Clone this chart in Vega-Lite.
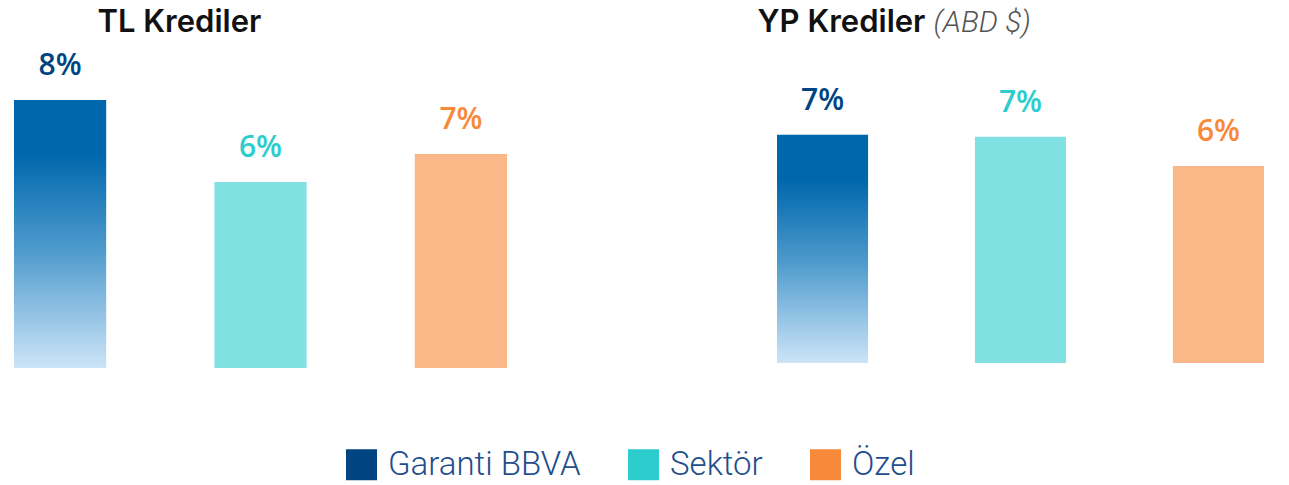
{
  "$schema": "https://vega.github.io/schema/vega-lite/v6.json",
  "padding": {"left": 14, "top": 6, "right": 10, "bottom": 4},
  "bounds": "flush",
  "spacing": 270,
  "datasets": {
    "krediler": [
      {"panel": "TL", "kategori": "Garanti BBVA", "deger": 8.0, "etiket": "8%"},
      {"panel": "TL", "kategori": "Sektör", "deger": 5.55, "etiket": "6%"},
      {"panel": "TL", "kategori": "Özel", "deger": 6.39, "etiket": "7%"},
      {"panel": "YP", "kategori": "Garanti BBVA", "deger": 6.81, "etiket": "7%"},
      {"panel": "YP", "kategori": "Sektör", "deger": 6.75, "etiket": "7%"},
      {"panel": "YP", "kategori": "Özel", "deger": 5.88, "etiket": "6%"}
    ]
  },
  "config": {
    "view": {"stroke": null},
    "font": "Inter",
    "axis": {"labels": false, "ticks": false, "domain": false, "grid": false, "titleBaseline": "alphabetic", "titleAlign": "left", "titleAngle": 0, "titleY": -19},
    "legend": {
      "orient": "none",
      "legendX": 331,
      "legendY": 398,
      "direction": "horizontal",
      "title": null,
      "symbolType": "square",
      "symbolSize": 961,
      "symbolOpacity": 1,
      "symbolStrokeWidth": 0,
      "labelFont": "Roboto",
      "labelFontSize": 33,
      "labelFontWeight": 300,
      "labelColor": "#1F4E8C",
      "labelOffset": 10,
      "labelLimit": 0,
      "columnPadding": 46
    }
  },
  "hconcat": [
    {
      "width": 493,
      "height": 318,
      "data": {"name": "krediler"},
      "transform": [{"filter": "datum.panel === 'TL'"}],
      "encoding": {
        "x": {"field": "kategori", "type": "nominal", "sort": ["Garanti BBVA", "Sektör", "Özel"], "scale": {"paddingInner": 0.54, "paddingOuter": 0},
          "axis": {"orient": "top", "title": "TL Krediler", "titleX": 83, "titleFont": "Inter", "titleFontSize": 31, "titleFontWeight": 600, "titleColor": "#111111"}},
        "y": {"field": "deger", "type": "quantitative", "scale": {"domain": [0, 9.493]}, "axis": null}
      },
      "layer": [
        {
          "transform": [{"filter": "datum.kategori === 'Garanti BBVA'"}],
          "mark": {"type": "bar", "color": {"gradient": "linear", "x1": 0, "y1": 0, "x2": 0, "y2": 1, "stops": [{"offset": 0, "color": "#0067AC"}, {"offset": 0.2, "color": "#0067AC"}, {"offset": 0.55, "color": "#4C99CC"}, {"offset": 1, "color": "#CCE4F7"}]}}
        },
        {
          "transform": [{"filter": "datum.kategori !== 'Garanti BBVA'"}],
          "mark": {"type": "bar", "opacity": 0.6},
          "encoding": {"color": {"field": "kategori", "type": "nominal", "scale": {"domain": ["Garanti BBVA", "Sektör", "Özel"], "range": ["#004481", "#2DCCCD", "#F7893B"]}}}
        },
        {
          "mark": {"type": "text", "dy": -34, "font": "Open Sans", "fontSize": 30, "fontWeight": 600},
          "encoding": {
            "text": {"field": "etiket"},
            "color": {"field": "kategori", "type": "nominal", "scale": {"domain": ["Garanti BBVA", "Sektör", "Özel"], "range": ["#004481", "#2DCCCD", "#F7893B"]}}
          }
        }
      ]
    },
    {
      "width": 487,
      "height": 313,
      "data": {"name": "krediler"},
      "transform": [{"filter": "datum.panel === 'YP'"}],
      "encoding": {
        "x": {"field": "kategori", "type": "nominal", "sort": ["Garanti BBVA", "Sektör", "Özel"], "scale": {"paddingInner": 0.54, "paddingOuter": 0},
          "axis": {"orient": "top", "title": "YP Krediler", "titleX": -20, "titleFont": "Inter", "titleFontSize": 31, "titleFontWeight": 600, "titleColor": "#111111"}},
        "y": {"field": "deger", "type": "quantitative", "scale": {"domain": [0, 9.343]},
          "axis": {"orient": "left", "title": "(ABD $)", "titleX": 156, "titleFont": "Roboto", "titleFontStyle": "italic", "titleFontWeight": 300, "titleFontSize": 30, "titleColor": "#555555"}}
      },
      "layer": [
        {
          "transform": [{"filter": "datum.kategori === 'Garanti BBVA'"}],
          "mark": {"type": "bar", "color": {"gradient": "linear", "x1": 0, "y1": 0, "x2": 0, "y2": 1, "stops": [{"offset": 0, "color": "#0067AC"}, {"offset": 0.2, "color": "#0067AC"}, {"offset": 0.55, "color": "#4C99CC"}, {"offset": 1, "color": "#CCE4F7"}]}}
        },
        {
          "transform": [{"filter": "datum.kategori !== 'Garanti BBVA'"}],
          "mark": {"type": "bar", "opacity": 0.6},
          "encoding": {"color": {"field": "kategori", "type": "nominal", "scale": {"domain": ["Garanti BBVA", "Sektör", "Özel"], "range": ["#004481", "#2DCCCD", "#F7893B"]}}}
        },
        {
          "mark": {"type": "text", "dy": -34, "font": "Open Sans", "fontSize": 30, "fontWeight": 600},
          "encoding": {
            "text": {"field": "etiket"},
            "color": {"field": "kategori", "type": "nominal", "scale": {"domain": ["Garanti BBVA", "Sektör", "Özel"], "range": ["#004481", "#2DCCCD", "#F7893B"]}}
          }
        }
      ]
    }
  ]
}
